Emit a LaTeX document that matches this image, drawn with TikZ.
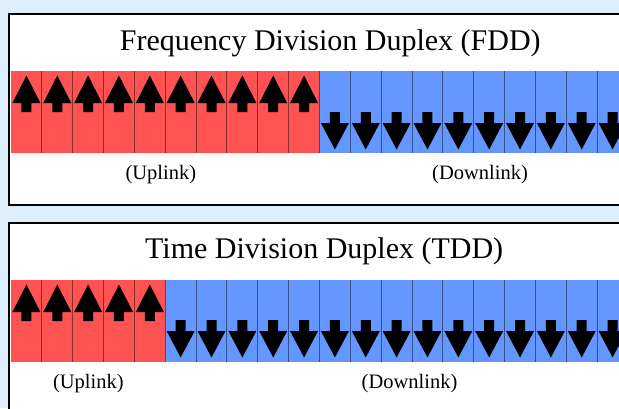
\documentclass[tikz,border=0pt]{standalone}
\usepackage{fontspec}
\setmainfont{Liberation Serif}
\definecolor{bg}{RGB}{221,238,252}
\definecolor{upred}{RGB}{255,82,82}
\definecolor{downblue}{RGB}{100,150,255}
\tikzset{
  panelframe/.style={line width=2pt, draw=black},
  divider/.style={line width=1pt, draw=black, draw opacity=0.45},
  titletext/.style={anchor=base, font=\fontsize{30}{36}\selectfont, inner sep=0pt},
  labeltext/.style={anchor=base, font=\fontsize{20.5}{24}\selectfont, inner sep=0pt},
  uparrow/.pic={\fill[black] (0,4.5) -- (14,32) -- (5,32) -- (5,41) -- (-5,41) -- (-5,32) -- (-14,32) -- cycle;},
  downarrow/.pic={\fill[black] (-5,41) -- (5,41) -- (5,52) -- (14,52) -- (0,78.5) -- (-14,52) -- (-5,52) -- cycle;}
}
\begin{document}
\begin{tikzpicture}[x=1pt,y=-1pt]
\fill[bg] (0,0) rectangle (619,408);
\useasboundingbox (0,0) rectangle (619,408);
% ---- Panel 1: FDD ----
\fill[white] (9.3,14.3) rectangle (625,205.3);
\draw[panelframe] (625,14.3) -- (9.3,14.3) -- (9.3,205.3) -- (625,205.3);
\foreach \i in {0,...,9} {\fill[upred] ({11+\i*30.85},71) rectangle ({11+(\i+1)*30.85},153);}
\foreach \i in {10,...,19} {\fill[downblue] ({11+\i*30.85},71) rectangle ({11+(\i+1)*30.85},153);}
\foreach \i in {1,...,19} {\draw[divider] ({11+\i*30.85},71) -- ({11+\i*30.85},153);}
\foreach \i in {0,...,9} {\pic at ({11+(\i+0.5)*30.85},71) {uparrow};}
\foreach \i in {10,...,19} {\pic at ({11+(\i+0.5)*30.85},71) {downarrow};}
\node[titletext] (fddtitle) at (330.3,50.7) {Frequency Division Duplex (FDD)};
\node[labeltext] (fddup) at (160.8,179) {(Uplink)};
\node[labeltext] (fdddown) at (480,179) {(Downlink)};
% ---- Panel 2: TDD ----
\fill[white] (9.3,223.3) rectangle (625,415);
\draw[panelframe] (625,223.3) -- (9.3,223.3) -- (9.3,415);
\foreach \i in {0,...,4} {\fill[upred] ({11+\i*30.85},280) rectangle ({11+(\i+1)*30.85},361.7);}
\foreach \i in {5,...,19} {\fill[downblue] ({11+\i*30.85},280) rectangle ({11+(\i+1)*30.85},361.7);}
\foreach \i in {1,...,19} {\draw[divider] ({11+\i*30.85},280) -- ({11+\i*30.85},361.7);}
\foreach \i in {0,...,4} {\pic at ({11+(\i+0.5)*30.85},280) {uparrow};}
\foreach \i in {5,...,19} {\pic at ({11+(\i+0.5)*30.85},279) {downarrow};}
\node[titletext] (tddtitle) at (324.2,258.5) {Time Division Duplex (TDD)};
\node[labeltext] (tddup) at (88.3,388) {(Uplink)};
\node[labeltext] (tdddown) at (409.5,388) {(Downlink)};
\end{tikzpicture}
\end{document}
